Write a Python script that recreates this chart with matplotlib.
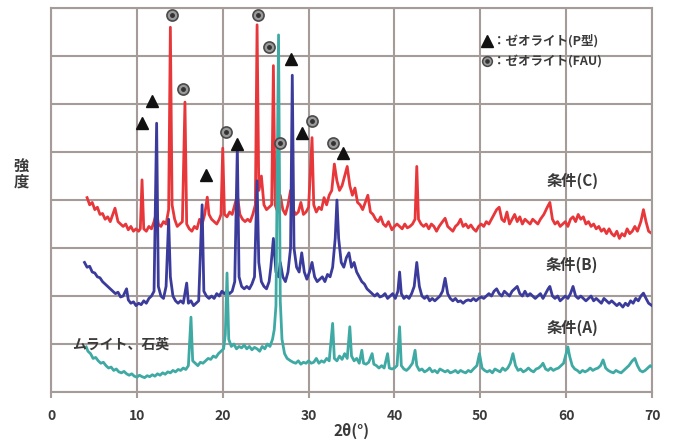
import matplotlib.pyplot as plt

plt.rcParams['font.family'] = ['Noto Sans CJK JP', 'DejaVu Sans']

# 条件(C)
red_pts = [
    (4.2, 4.05), (4.5, 3.9), (4.8, 3.95), (5.1, 3.8), (5.4, 3.85), (5.7, 3.7), (6.0, 3.72),
    (6.3, 3.6), (6.6, 3.65), (6.9, 3.55), (7.2, 3.7), (7.45, 3.83), (7.8, 3.55), (8.1, 3.5),
    (8.4, 3.45), (8.7, 3.5), (9.0, 3.38), (9.3, 3.45), (9.6, 3.35), (9.9, 3.4), (10.2, 3.35),
    (10.4, 3.4), (10.6, 4.42), (10.8, 3.4), (11.1, 3.35), (11.4, 3.45), (11.7, 3.4), (12.0, 3.55),
    (12.3, 3.75), (12.5, 3.5), (12.8, 3.45), (13.1, 3.55), (13.4, 3.5), (13.7, 3.8), (13.9, 7.6),
    (14.1, 3.9), (14.4, 3.6), (14.7, 3.45), (15.0, 3.5), (15.3, 3.55), (15.6, 6.04), (15.8, 3.5),
    (16.1, 3.4), (16.4, 3.35), (16.7, 3.45), (17.0, 3.4), (17.3, 3.6), (17.6, 3.5), (17.9, 3.7),
    (18.2, 4.06), (18.4, 3.7), (18.7, 3.6), (19.0, 3.55), (19.3, 3.5), (19.6, 3.6), (19.8, 3.7),
    (20.0, 5.08), (20.2, 3.7), (20.5, 3.65), (20.8, 3.75), (21.1, 3.7), (21.4, 3.9), (21.7, 4.1),
    (22.0, 3.7), (22.3, 3.6), (22.6, 3.55), (22.9, 3.6), (23.2, 3.55), (23.5, 3.7), (23.8, 3.9),
    (24.0, 7.65), (24.2, 4.2), (24.5, 4.5), (24.8, 3.9), (25.1, 3.8), (25.4, 3.85), (25.7, 3.9),
    (25.9, 6.8), (26.1, 3.9), (26.4, 3.75), (26.7, 4.1), (27.0, 3.8), (27.3, 3.7), (27.6, 3.9),
    (27.9, 4.2), (28.2, 3.8), (28.5, 3.7), (28.8, 3.75), (29.1, 3.95), (29.4, 3.7), (29.7, 3.75),
    (30.0, 3.85), (30.4, 5.3), (30.6, 3.9), (30.9, 3.75), (31.2, 3.85), (31.5, 3.8), (31.8, 4.05),
    (32.1, 3.9), (32.4, 4.1), (32.7, 4.2), (33.0, 4.75), (33.3, 4.4), (33.6, 4.2), (33.9, 4.3),
    (34.2, 4.5), (34.5, 4.7), (34.8, 4.3), (35.1, 4.1), (35.4, 4.25), (35.7, 3.95), (36.0, 3.9),
    (36.3, 3.8), (36.6, 3.95), (36.9, 4.1), (37.2, 3.75), (37.5, 3.7), (37.8, 3.6), (38.1, 3.55),
    (38.4, 3.65), (38.7, 3.5), (39.0, 3.45), (39.3, 3.55), (39.7, 3.38), (40.0, 3.45), (40.3, 3.5),
    (40.6, 3.45), (40.9, 3.4), (41.2, 3.5), (41.5, 3.42), (41.8, 3.45), (42.1, 3.5), (42.4, 3.6),
    (42.6, 4.7), (42.8, 3.6), (43.1, 3.5), (43.4, 3.45), (43.7, 3.5), (44.0, 3.4), (44.3, 3.5),
    (44.6, 3.45), (44.9, 3.35), (45.2, 3.45), (45.6, 3.55), (45.9, 3.62), (46.2, 3.45), (46.5, 3.4),
    (46.8, 3.35), (47.1, 3.45), (47.4, 3.5), (47.7, 3.6), (48.0, 3.45), (48.3, 3.5), (48.6, 3.42),
    (48.9, 3.48), (49.2, 3.4), (49.5, 3.35), (49.8, 3.45), (50.1, 3.5), (50.4, 3.45), (50.7, 3.55),
    (51.0, 3.5), (51.3, 3.6), (51.6, 3.7), (51.9, 3.8), (52.2, 3.85), (52.5, 3.6), (52.8, 3.55),
    (53.1, 3.75), (53.4, 3.5), (53.7, 3.6), (54.0, 3.7), (54.3, 3.55), (54.6, 3.65), (54.9, 3.5),
    (55.2, 3.6), (55.5, 3.55), (55.8, 3.5), (56.1, 3.6), (56.4, 3.55), (56.7, 3.5), (57.0, 3.6),
    (57.4, 3.7), (57.8, 3.85), (58.1, 3.95), (58.4, 3.6), (58.7, 3.5), (59.0, 3.55), (59.3, 3.45),
    (59.6, 3.5), (59.9, 3.55), (60.2, 3.45), (60.5, 3.6), (60.8, 3.65), (61.1, 3.55), (61.4, 3.7),
    (61.7, 3.6), (62.0, 3.65), (62.3, 3.5), (62.6, 3.55), (62.9, 3.45), (63.2, 3.5), (63.5, 3.4),
    (63.8, 3.45), (64.1, 3.35), (64.4, 3.4), (64.7, 3.3), (65.0, 3.4), (65.3, 3.3), (65.6, 3.25),
    (65.9, 3.35), (66.2, 3.2), (66.5, 3.3), (66.8, 3.25), (67.1, 3.4), (67.4, 3.3), (67.7, 3.35),
    (68.0, 3.45), (68.3, 3.35), (68.7, 3.55), (69.0, 3.8), (69.3, 3.55), (69.6, 3.35), (70.0, 3.3),
]

# 条件(B)
blue_pts = [
    (3.9, 2.7), (4.2, 2.6), (4.5, 2.62), (4.8, 2.5), (5.1, 2.48), (5.4, 2.4), (5.7, 2.38),
    (6.0, 2.3), (6.3, 2.25), (6.6, 2.2), (6.9, 2.15), (7.2, 2.1), (7.5, 2.05), (7.8, 2.08),
    (8.1, 1.98), (8.4, 2.0), (8.8, 2.15), (9.0, 1.92), (9.3, 1.85), (9.6, 1.88), (9.9, 1.8),
    (10.2, 1.85), (10.5, 1.82), (10.8, 1.9), (11.1, 1.85), (11.4, 1.95), (11.7, 2.0), (12.0, 2.1),
    (12.3, 5.6), (12.5, 2.2), (12.8, 2.0), (13.1, 1.95), (13.4, 2.2), (13.7, 3.6), (13.9, 2.4),
    (14.2, 2.0), (14.5, 1.9), (14.8, 1.85), (15.1, 1.9), (15.4, 1.85), (15.8, 2.27), (16.0, 1.85),
    (16.3, 1.9), (16.6, 1.8), (16.9, 1.85), (17.2, 1.9), (17.6, 3.9), (17.8, 2.1), (18.1, 2.0),
    (18.4, 1.95), (18.7, 2.0), (19.0, 1.95), (19.3, 2.05), (19.6, 2.0), (19.9, 2.1), (20.2, 2.05),
    (20.5, 2.1), (20.8, 2.05), (21.1, 2.1), (21.4, 2.3), (21.7, 5.1), (21.9, 2.4), (22.2, 2.2),
    (22.5, 2.15), (22.8, 2.2), (23.1, 2.15), (23.4, 2.25), (23.7, 2.4), (24.0, 4.4), (24.2, 2.7),
    (24.5, 2.3), (24.8, 2.2), (25.1, 2.15), (25.4, 2.3), (25.6, 2.6), (25.9, 3.2), (26.2, 2.5),
    (26.5, 2.4), (26.7, 2.7), (27.0, 2.4), (27.3, 2.3), (27.6, 2.5), (27.9, 3.0), (28.1, 6.6),
    (28.3, 3.0), (28.6, 2.6), (28.9, 2.5), (29.2, 2.9), (29.5, 2.5), (29.8, 2.35), (30.1, 2.5),
    (30.4, 2.7), (30.7, 2.4), (31.0, 2.3), (31.3, 2.35), (31.6, 2.4), (31.9, 2.3), (32.2, 2.45),
    (32.5, 2.4), (32.8, 2.6), (33.1, 3.2), (33.3, 4.0), (33.5, 3.2), (33.8, 2.7), (34.1, 2.6),
    (34.4, 2.8), (34.7, 2.9), (35.0, 2.6), (35.3, 2.7), (35.6, 2.5), (35.9, 2.4), (36.2, 2.3),
    (36.5, 2.25), (36.8, 2.15), (37.1, 2.1), (37.4, 2.05), (37.7, 2.0), (38.0, 2.05), (38.3, 1.98),
    (38.6, 2.0), (38.9, 2.05), (39.2, 1.95), (39.5, 2.0), (39.8, 2.05), (40.1, 1.95), (40.4, 2.1),
    (40.6, 2.5), (40.8, 2.05), (41.1, 1.95), (41.4, 2.0), (41.7, 1.95), (42.0, 2.05), (42.3, 2.2),
    (42.6, 2.7), (42.9, 2.2), (43.2, 2.0), (43.5, 1.95), (43.8, 2.0), (44.1, 1.9), (44.4, 1.95),
    (44.7, 1.9), (45.0, 1.95), (45.3, 2.0), (45.6, 2.1), (45.9, 2.37), (46.2, 2.05), (46.5, 1.95),
    (46.8, 1.9), (47.1, 1.95), (47.4, 1.88), (47.7, 1.9), (48.0, 1.85), (48.3, 1.9), (48.6, 1.92),
    (48.9, 1.9), (49.2, 1.95), (49.5, 1.9), (49.8, 1.95), (50.1, 1.98), (50.4, 1.95), (50.7, 2.0),
    (51.0, 2.05), (51.3, 2.0), (51.6, 2.1), (51.9, 2.15), (52.2, 2.05), (52.5, 2.0), (52.8, 2.1),
    (53.1, 2.05), (53.4, 2.0), (53.7, 2.1), (54.0, 2.15), (54.3, 2.2), (54.6, 2.05), (54.9, 2.0),
    (55.2, 2.1), (55.5, 2.0), (55.8, 2.05), (56.1, 2.0), (56.4, 1.95), (56.7, 2.0), (57.0, 2.05),
    (57.3, 1.95), (57.6, 2.05), (57.9, 2.15), (58.1, 2.2), (58.4, 2.0), (58.7, 1.95), (59.0, 2.0),
    (59.3, 1.9), (59.6, 1.95), (59.9, 2.0), (60.2, 1.95), (60.5, 2.05), (60.8, 2.2), (61.1, 2.0),
    (61.4, 1.95), (61.7, 2.0), (62.0, 1.95), (62.3, 1.9), (62.6, 1.95), (62.9, 2.0), (63.2, 1.9),
    (63.5, 1.95), (63.8, 1.9), (64.1, 1.85), (64.4, 1.95), (64.7, 1.9), (65.0, 1.85), (65.3, 1.9),
    (65.6, 1.85), (65.9, 1.8), (66.2, 1.85), (66.6, 1.77), (66.9, 1.85), (67.2, 1.8), (67.5, 1.9),
    (67.8, 1.85), (68.1, 1.95), (68.4, 1.9), (68.7, 2.0), (69.0, 2.06), (69.3, 1.95), (69.6, 1.85),
    (70.0, 1.8),
]

# 条件(A)
teal_pts = [
    (4.1, 0.94), (4.3, 0.85), (4.6, 0.8), (4.9, 0.7), (5.2, 0.72), (5.5, 0.65), (5.8, 0.6),
    (6.1, 0.62), (6.4, 0.55), (6.7, 0.5), (7.0, 0.52), (7.3, 0.45), (7.6, 0.48), (7.9, 0.42),
    (8.2, 0.4), (8.5, 0.43), (8.8, 0.38), (9.1, 0.35), (9.4, 0.38), (9.7, 0.33), (10.0, 0.31),
    (10.3, 0.35), (10.6, 0.32), (10.9, 0.3), (11.2, 0.34), (11.5, 0.32), (11.8, 0.36), (12.1, 0.33),
    (12.4, 0.38), (12.7, 0.35), (13.0, 0.4), (13.3, 0.37), (13.6, 0.42), (13.9, 0.4), (14.2, 0.45),
    (14.5, 0.42), (14.8, 0.47), (15.1, 0.45), (15.4, 0.5), (15.7, 0.47), (16.0, 0.55), (16.3, 1.56),
    (16.5, 0.65), (16.8, 0.6), (17.1, 0.55), (17.4, 0.62), (17.7, 0.6), (18.0, 0.65), (18.3, 0.7),
    (18.6, 0.68), (18.9, 0.75), (19.2, 0.72), (19.5, 0.8), (19.8, 0.85), (20.1, 0.9), (20.3, 1.2),
    (20.5, 2.48), (20.7, 1.1), (21.0, 0.95), (21.3, 1.0), (21.6, 0.9), (21.9, 0.95), (22.2, 0.92),
    (22.5, 0.98), (22.8, 0.9), (23.1, 0.95), (23.4, 0.88), (23.7, 0.93), (24.0, 0.9), (24.3, 0.85),
    (24.6, 0.95), (24.9, 0.9), (25.2, 1.0), (25.5, 0.95), (25.8, 1.1), (26.0, 1.3), (26.2, 1.8),
    (26.5, 7.44), (26.7, 1.9), (26.9, 1.1), (27.2, 0.8), (27.5, 0.7), (27.9, 0.65), (28.2, 0.62),
    (28.5, 0.6), (28.8, 0.65), (29.1, 0.58), (29.4, 0.62), (29.7, 0.6), (30.0, 0.65), (30.3, 0.6),
    (30.6, 0.62), (30.9, 0.7), (31.2, 0.6), (31.5, 0.65), (31.8, 0.62), (32.1, 0.7), (32.4, 0.65),
    (32.8, 1.43), (33.0, 0.7), (33.3, 0.65), (33.6, 0.75), (33.9, 0.68), (34.2, 0.8), (34.5, 0.7),
    (34.8, 1.36), (35.0, 0.75), (35.3, 0.65), (35.6, 0.7), (35.9, 0.6), (36.2, 0.87), (36.4, 0.6),
    (36.7, 0.58), (37.0, 0.62), (37.4, 0.8), (37.6, 0.58), (37.9, 0.55), (38.2, 0.5), (38.5, 0.55),
    (38.8, 0.5), (39.2, 0.8), (39.4, 0.5), (39.7, 0.48), (40.0, 0.5), (40.3, 0.55), (40.6, 1.36),
    (40.8, 0.55), (41.1, 0.48), (41.4, 0.45), (41.7, 0.5), (42.1, 0.6), (42.4, 0.87), (42.6, 0.55),
    (42.9, 0.45), (43.2, 0.48), (43.5, 0.42), (43.8, 0.45), (44.1, 0.5), (44.4, 0.42), (44.7, 0.45),
    (45.0, 0.4), (45.3, 0.48), (45.6, 0.45), (45.9, 0.42), (46.2, 0.45), (46.5, 0.4), (46.8, 0.42),
    (47.1, 0.45), (47.4, 0.4), (47.7, 0.45), (48.0, 0.42), (48.3, 0.4), (48.6, 0.45), (48.9, 0.42),
    (49.2, 0.48), (49.6, 0.55), (49.9, 0.8), (50.2, 0.5), (50.5, 0.45), (50.8, 0.42), (51.1, 0.45),
    (51.4, 0.4), (51.7, 0.48), (52.0, 0.45), (52.3, 0.42), (52.6, 0.5), (52.9, 0.45), (53.2, 0.5),
    (53.5, 0.6), (53.8, 0.8), (54.1, 0.55), (54.4, 0.45), (54.7, 0.48), (55.0, 0.42), (55.3, 0.45),
    (55.6, 0.5), (55.9, 0.45), (56.2, 0.42), (56.5, 0.48), (56.8, 0.5), (57.1, 0.55), (57.3, 0.6),
    (57.6, 0.48), (57.9, 0.45), (58.2, 0.5), (58.5, 0.45), (58.8, 0.48), (59.1, 0.5), (59.4, 0.55),
    (59.7, 0.6), (60.0, 0.8), (60.2, 0.94), (60.4, 0.75), (60.7, 0.55), (61.0, 0.48), (61.3, 0.45),
    (61.6, 0.4), (61.9, 0.45), (62.2, 0.42), (62.5, 0.45), (62.8, 0.5), (63.1, 0.45), (63.4, 0.48),
    (63.7, 0.5), (64.0, 0.55), (64.3, 0.67), (64.6, 0.5), (64.9, 0.45), (65.2, 0.42), (65.5, 0.4),
    (65.8, 0.45), (66.1, 0.42), (66.4, 0.4), (66.7, 0.45), (67.0, 0.5), (67.3, 0.55), (67.7, 0.65),
    (68.0, 0.7), (68.3, 0.55), (68.6, 0.45), (68.9, 0.42), (69.2, 0.45), (69.5, 0.5), (69.8, 0.55),
    (70.0, 0.52),
]

# ピーク帰属マーカー
p_type_x = [10.6, 11.76, 18.05, 21.66, 27.95, 29.23, 34.0]
p_type_y = [5.6, 6.06, 4.52, 5.17, 6.94, 5.4, 4.98]
fau_x = [14.09, 15.37, 20.38, 24.1, 25.39, 26.67, 30.4, 32.84]
fau_y = [7.85, 6.31, 5.42, 7.85, 7.19, 5.19, 5.65, 5.19]

x_ticks = [0, 10, 20, 30, 40, 50, 60, 70]

red = "#e8373a"
blue = "#3b3b9b"
teal = "#3fa9a3"
grid_c = "#a59c9a"
txt_c = "#3a3a3a"

fig = plt.figure(figsize=(6.74, 4.46), dpi=100)
ax = fig.add_axes([0.0757, 0.121, 0.8917, 0.861])

for pts, c, z in [(red_pts, red, 2), (blue_pts, blue, 3), (teal_pts, teal, 4)]:
    xs, ys = zip(*pts)
    ax.plot(xs, ys, color=c, lw=2.0, zorder=z, solid_joinstyle="round")

ax.plot(p_type_x, p_type_y, ls="none", marker="^", ms=9, color="#111111", zorder=6, clip_on=False)
ax.plot(fau_x, fau_y, ls="none", marker="o", ms=8, mfc="#9a9a9a", mec="#4a4a4a", mew=1.2,
        zorder=6, clip_on=False)
ax.plot(fau_x, fau_y, ls="none", marker="o", ms=2.5, color="#333333", zorder=7, clip_on=False)

ax.set_xlim(0, 70)
ax.set_ylim(0, 8)
ax.set_xticks(x_ticks)
ax.set_yticks(range(9))
ax.set_yticklabels([])
ax.grid(True, color=grid_c, lw=1.5)
ax.set_axisbelow(True)
for s in ax.spines.values():
    s.set_color(grid_c)
    s.set_linewidth(1.5)
ax.tick_params(axis="x", colors=grid_c, labelcolor=txt_c, labelsize=10, length=4, width=1.5, pad=8)
ax.tick_params(axis="y", length=0)
for lab in ax.get_xticklabels():
    lab.set_fontweight("bold")

ax.set_xlabel("2θ(°)", fontsize=11, color=txt_c, fontweight="bold", labelpad=0)
fig.text(0.032, 0.61, "強\n度", fontsize=11, color=txt_c, fontweight="bold",
         ha="center", va="center", linespacing=1.0)

# 凡例
ax.plot([50.8], [7.32], marker="^", ms=8, color="#111111", clip_on=False)
ax.plot([50.8], [6.9], marker="o", ms=7, mfc="#9a9a9a", mec="#4a4a4a", mew=1.1, clip_on=False)
ax.plot([50.8], [6.9], marker="o", ms=2.3, color="#333333", clip_on=False)
ax.text(51.5, 7.32, "：ゼオライト(P型)", fontsize=9, color=txt_c, fontweight="bold", va="center")
ax.text(51.5, 6.9, "：ゼオライト(FAU)", fontsize=9, color=txt_c, fontweight="bold", va="center")

ax.text(60.7, 4.4, "条件(C)", fontsize=11, color=txt_c, fontweight="bold", ha="center", va="center")
ax.text(60.7, 2.65, "条件(B)", fontsize=11, color=txt_c, fontweight="bold", ha="center", va="center")
ax.text(60.7, 1.33, "条件(A)", fontsize=11, color=txt_c, fontweight="bold", ha="center", va="center")
ax.text(2.5, 0.98, "ムライト、石英", fontsize=10, color=txt_c, fontweight="bold", ha="left", va="center",
        zorder=8)

fig.savefig("out.png", dpi=100)
